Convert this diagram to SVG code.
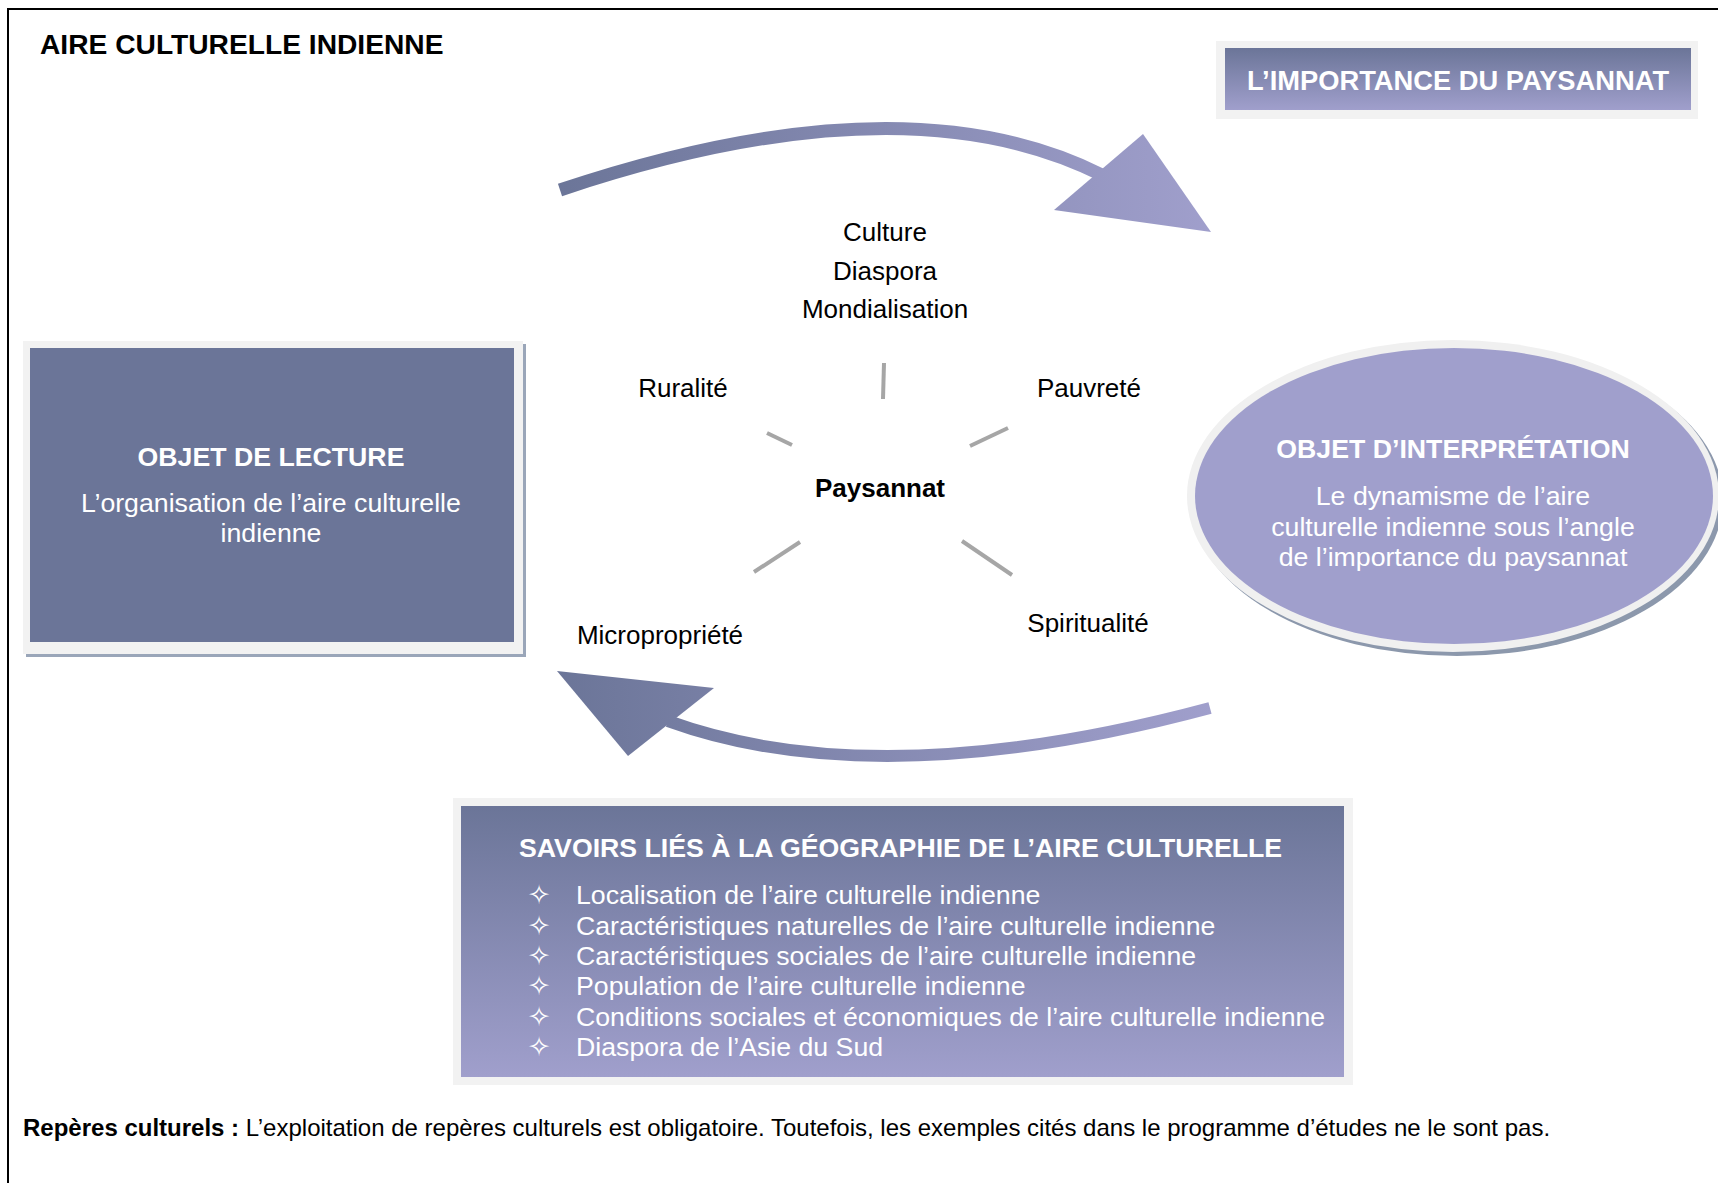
<svg xmlns="http://www.w3.org/2000/svg" width="1718" height="1183" viewBox="0 0 1718 1183">
<defs>
<style>
text{font-family:"Liberation Sans",Arial,sans-serif}
.w{fill:#ffffff;font-size:26.7px}
.wb{fill:#ffffff;font-size:26.7px;font-weight:bold}
.k{fill:#000000;font-size:26px}
.spoke{stroke:#a6a6a6;stroke-width:4;fill:none}
.bul{font-family:"DejaVu Sans",sans-serif;fill:#ffffff;font-size:27px}
</style>
<linearGradient id="gv" x1="0" y1="0" x2="0" y2="1">
<stop offset="0" stop-color="#6b7598"/>
<stop offset="1" stop-color="#a09fcc"/>
</linearGradient>
<linearGradient id="gTop" gradientUnits="userSpaceOnUse" x1="555" y1="0" x2="1211" y2="0">
<stop offset="0" stop-color="#6b7598"/>
<stop offset="1" stop-color="#a09fcc"/>
</linearGradient>
<linearGradient id="gBot" gradientUnits="userSpaceOnUse" x1="556" y1="0" x2="1212" y2="0">
<stop offset="0" stop-color="#6b7598"/>
<stop offset="1" stop-color="#a09fcc"/>
</linearGradient>
</defs>
<rect x="0" y="0" width="1718" height="1183" fill="#ffffff"/>
<rect x="8" y="9" width="1730" height="1200" fill="none" stroke="#000000" stroke-width="2"/>

<text x="40" y="54" style="font-size:28.2px;font-weight:bold" fill="#000000">AIRE CULTURELLE INDIENNE</text>

<g id="importance">
<rect x="1216" y="41" width="482" height="78" fill="#f2f2f2"/>
<rect x="1225" y="48" width="466" height="62" fill="url(#gv)"/>
<text class="wb" x="1458" y="90" text-anchor="middle" style="font-size:27.3px">L’IMPORTANCE DU PAYSANNAT</text>
</g>

<g id="lecture">
<rect x="26" y="344" width="500" height="313" fill="#9aa6b9"/>
<rect x="23" y="341" width="500" height="313" fill="#f2f2f2"/>
<rect x="30" y="348" width="484" height="294" fill="#6b7598"/>
<text class="wb" x="271" y="466" text-anchor="middle">OBJET DE LECTURE</text>
<text class="w" x="271" y="512" text-anchor="middle">L’organisation de l’aire culturelle</text>
<text class="w" x="271" y="542" text-anchor="middle">indienne</text>
</g>

<g id="interpretation">
<ellipse cx="1457" cy="500" rx="266" ry="156" fill="#8c98ac"/>
<ellipse cx="1453" cy="496" rx="266" ry="156" fill="#f0f0f0"/>
<ellipse cx="1454" cy="496" rx="259" ry="148" fill="#a09fcc"/>
<text class="wb" x="1453" y="458" text-anchor="middle">OBJET D’INTERPRÉTATION</text>
<text class="w" x="1453" y="505" text-anchor="middle">Le dynamisme de l’aire</text>
<text class="w" x="1453" y="536" text-anchor="middle">culturelle indienne sous l’angle</text>
<text class="w" x="1453" y="566" text-anchor="middle">de l’importance du paysannat</text>
</g>

<g id="savoirs">
<rect x="453" y="798" width="900" height="287" fill="#f2f2f2"/>
<rect x="461" y="806" width="883" height="271" fill="url(#gv)"/>
<text class="wb" x="519" y="857">SAVOIRS LIÉS À LA GÉOGRAPHIE DE L’AIRE CULTURELLE</text>
<text class="bul" x="539" y="904" text-anchor="middle">✧</text>
<text class="w" x="576" y="904">Localisation de l’aire culturelle indienne</text>
<text class="bul" x="539" y="935" text-anchor="middle">✧</text>
<text class="w" x="576" y="935">Caractéristiques naturelles de l’aire culturelle indienne</text>
<text class="bul" x="539" y="965" text-anchor="middle">✧</text>
<text class="w" x="576" y="965">Caractéristiques sociales de l’aire culturelle indienne</text>
<text class="bul" x="539" y="995" text-anchor="middle">✧</text>
<text class="w" x="576" y="995">Population de l’aire culturelle indienne</text>
<text class="bul" x="539" y="1026" text-anchor="middle">✧</text>
<text class="w" x="576" y="1026">Conditions sociales et économiques de l’aire culturelle indienne</text>
<text class="bul" x="539" y="1056" text-anchor="middle">✧</text>
<text class="w" x="576" y="1056">Diaspora de l’Asie du Sud</text>
</g>

<g id="paysannat">
<text x="880" y="497" text-anchor="middle" style="font-size:26px;font-weight:bold" fill="#000000">Paysannat</text>
</g>
<g id="culture">
<text class="k" x="885" y="241" text-anchor="middle">Culture</text>
<text class="k" x="885" y="280" text-anchor="middle">Diaspora</text>
<text class="k" x="885" y="318" text-anchor="middle">Mondialisation</text>
</g>
<g id="ruralite"><text class="k" x="683" y="397" text-anchor="middle">Ruralité</text></g>
<g id="pauvrete"><text class="k" x="1089" y="397" text-anchor="middle">Pauvreté</text></g>
<g id="micropropriete"><text class="k" x="660" y="644" text-anchor="middle">Micropropriété</text></g>
<g id="spiritualite"><text class="k" x="1088" y="632" text-anchor="middle">Spiritualité</text></g>

<g id="connectors">
<line class="spoke" x1="884" y1="363" x2="883" y2="399"/>
<line class="spoke" x1="767" y1="433" x2="792" y2="445"/>
<line class="spoke" x1="970" y1="446" x2="1008" y2="428"/>
<line class="spoke" x1="754" y1="572" x2="800" y2="542"/>
<line class="spoke" x1="962" y1="541" x2="1012" y2="575"/>
<path d="M560 190 Q903 75 1102 175" fill="none" stroke="url(#gTop)" stroke-width="13"/>
<polygon points="1054,210 1143,134 1211,232" fill="url(#gTop)"/>
<path d="M1210 708 Q878 797 668 721" fill="none" stroke="url(#gBot)" stroke-width="12"/>
<polygon points="714,688 628,756 557,671" fill="url(#gBot)"/>
</g>

<text x="23" y="1136" style="font-size:24px" fill="#000000"><tspan font-weight="bold">Repères culturels :</tspan> L’exploitation de repères culturels est obligatoire. Toutefois, les exemples cités dans le programme d’études ne le sont pas.</text>
</svg>
